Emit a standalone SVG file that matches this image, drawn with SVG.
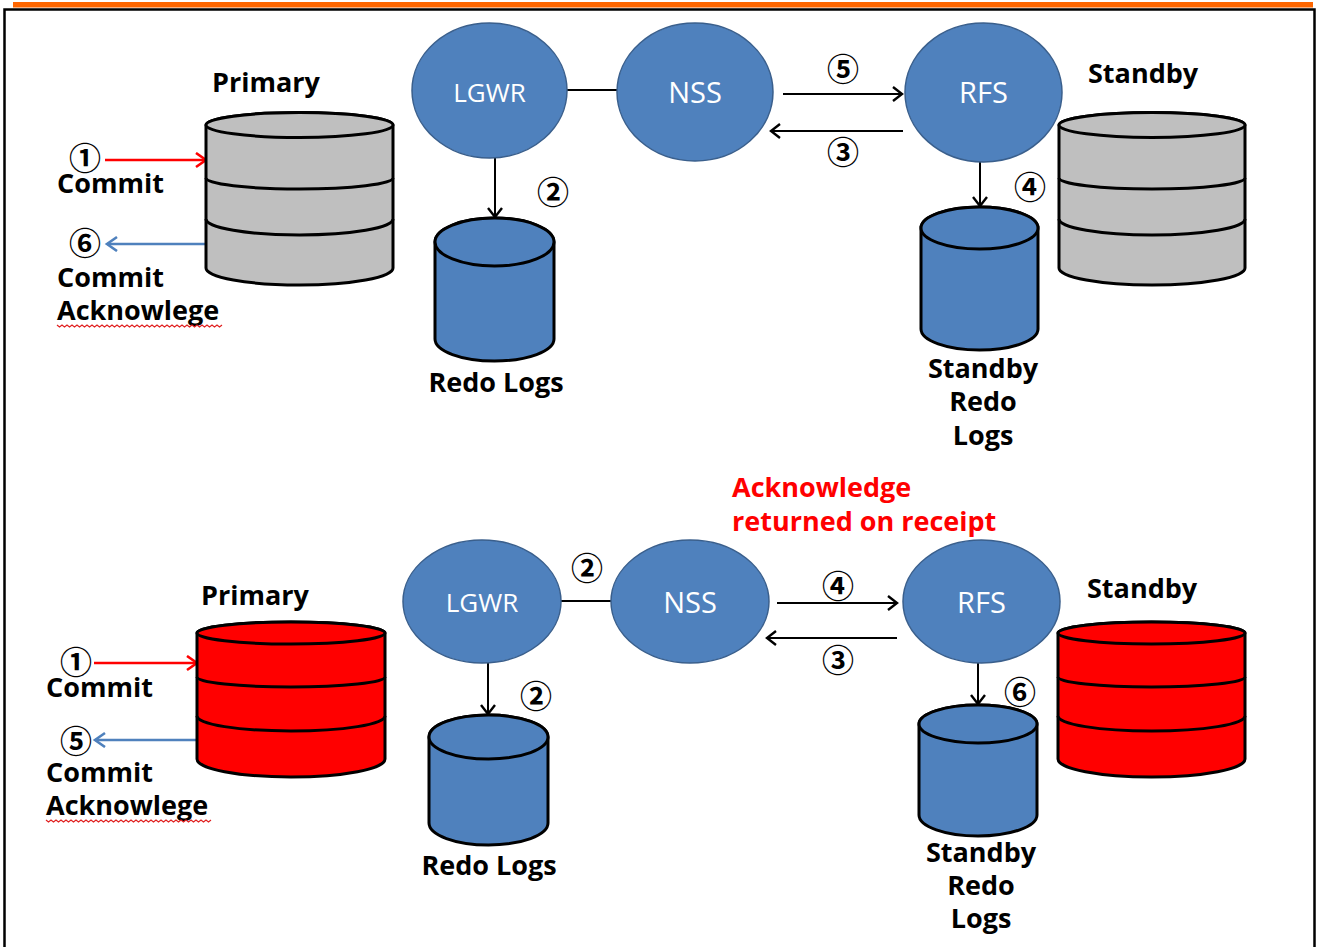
<svg xmlns="http://www.w3.org/2000/svg" width="1317" height="947" viewBox="0 0 1317 947">
<style>
.lbl{font-family:"Open Sans","Liberation Sans",sans-serif;font-weight:700;font-size:27px;fill:#000}
.red{fill:#FF0000}
.node{fill:#4F81BD;stroke:#3A5F8C;stroke-width:1.5}
.ntxt{font-family:"Open Sans","Liberation Sans",sans-serif;font-size:28px;fill:#FFFFFF;text-anchor:middle}
.num{font-family:"Noto Sans CJK KR","DejaVu Sans",sans-serif;font-weight:700;font-size:32px;fill:#000;text-anchor:middle}
.db{stroke:#000;stroke-width:3;stroke-linejoin:round}
.gray{fill:#BFBFBF}
.rdb{fill:#FF0000}
.blue{fill:#4F81BD}
.band{fill:none;stroke:#000;stroke-width:3}
.ln{stroke:#000;stroke-width:2;fill:none}
.rl{stroke:#FF0000;stroke-width:2.5;fill:none}
.bl{stroke:#4F81BD;stroke-width:2.5;fill:none}
.sq{stroke:#E02020;stroke-width:1.2;fill:none}
</style>
<defs>
<marker id="ah" markerUnits="userSpaceOnUse" markerWidth="14" markerHeight="18" refX="11" refY="8" orient="auto">
<path d="M2,1 L11,8 L2,15" fill="none" stroke="#000" stroke-width="2.4"/>
</marker>
<marker id="ahr" markerUnits="userSpaceOnUse" markerWidth="16" markerHeight="18" refX="12" refY="8" orient="auto">
<path d="M2,1 L12,8 L2,15" fill="none" stroke="#FF0000" stroke-width="2.6"/>
</marker>
<marker id="ahb" markerUnits="userSpaceOnUse" markerWidth="16" markerHeight="18" refX="12" refY="8" orient="auto">
<path d="M2,1 L12,8 L2,15" fill="none" stroke="#4F81BD" stroke-width="2.6"/>
</marker>
</defs>

<g id="frame">
<rect x="13" y="2" width="1300" height="5.5" fill="#FF6600"/>
<rect x="4.5" y="9.5" width="1310" height="960" fill="none" stroke="#000" stroke-width="2.5"/>
</g>

<g id="connectors">
<line class="rl" x1="105" y1="160" x2="206" y2="160" marker-end="url(#ahr)"/>
<line class="bl" x1="206" y1="244" x2="107" y2="244" marker-end="url(#ahb)"/>
<line class="ln" x1="567" y1="90" x2="617" y2="90"/>
<line class="ln" x1="783" y1="94" x2="902" y2="94" marker-end="url(#ah)"/>
<line class="ln" x1="903" y1="131" x2="771" y2="131" marker-end="url(#ah)"/>
<line class="ln" x1="495" y1="158" x2="495" y2="217" marker-end="url(#ah)"/>
<line class="ln" x1="980" y1="162" x2="980" y2="206" marker-end="url(#ah)"/>
<line class="rl" x1="94" y1="663" x2="197" y2="663" marker-end="url(#ahr)"/>
<line class="bl" x1="197" y1="740" x2="95" y2="740" marker-end="url(#ahb)"/>
<line class="ln" x1="561" y1="601" x2="611" y2="601"/>
<line class="ln" x1="777" y1="603" x2="897" y2="603" marker-end="url(#ah)"/>
<line class="ln" x1="897" y1="638" x2="767" y2="638" marker-end="url(#ah)"/>
<line class="ln" x1="488" y1="663" x2="488" y2="714" marker-end="url(#ah)"/>
<line class="ln" x1="978" y1="663" x2="978" y2="704" marker-end="url(#ah)"/>
</g>

<g id="labels-steps">
<text class="num" x="85" y="170">①</text>
<text class="num" x="85" y="255">⑥</text>
<text class="num" x="553" y="204">②</text>
<text class="num" x="843" y="81">⑤</text>
<text class="num" x="843" y="164">③</text>
<text class="num" x="1030" y="199">④</text>
<text class="num" x="76" y="674">①</text>
<text class="num" x="76" y="753">⑤</text>
<text class="num" x="587" y="580">②</text>
<text class="num" x="536" y="708">②</text>
<text class="num" x="838" y="598">④</text>
<text class="num" x="838" y="672">③</text>
<text class="num" x="1020" y="704">⑥</text>
</g>

<g id="top-primary">
<text class="lbl" x="212" y="92">Primary</text>
<path class="db gray" d="M206,125 L206,268 A93.5,17 0 0 0 393,268 L393,125 A93.5,12.5 0 0 0 206,125 Z"/>
<ellipse class="db gray" cx="299.5" cy="125" rx="93.5" ry="12.5"/>
<path class="band" d="M206,178 A93.5,11 0 0 0 393,178"/>
<path class="band" d="M206,219 A93.5,16 0 0 0 393,219"/>
</g>
<g id="top-commit">
<text class="lbl" x="57" y="193">Commit</text>
<text class="lbl" x="57" y="287">Commit</text>
<text class="lbl" x="57" y="320">Acknowlege</text>
<path class="sq" d="M57,325 l2.5,2 l2.5,-2 l2.5,2 l2.5,-2 l2.5,2 l2.5,-2 l2.5,2 l2.5,-2 l2.5,2 l2.5,-2 l2.5,2 l2.5,-2 l2.5,2 l2.5,-2 l2.5,2 l2.5,-2 l2.5,2 l2.5,-2 l2.5,2 l2.5,-2 l2.5,2 l2.5,-2 l2.5,2 l2.5,-2 l2.5,2 l2.5,-2 l2.5,2 l2.5,-2 l2.5,2 l2.5,-2 l2.5,2 l2.5,-2 l2.5,2 l2.5,-2 l2.5,2 l2.5,-2 l2.5,2 l2.5,-2 l2.5,2 l2.5,-2 l2.5,2 l2.5,-2 l2.5,2 l2.5,-2 l2.5,2 l2.5,-2 l2.5,2 l2.5,-2 l2.5,2 l2.5,-2 l2.5,2 l2.5,-2 l2.5,2 l2.5,-2 l2.5,2 l2.5,-2 l2.5,2 l2.5,-2 l2.5,2 l2.5,-2 l2.5,2 l2.5,-2 l2.5,2 l2.5,-2 l2.5,2 l2.5,-2"/>
</g>
<g id="top-lgwr">
<ellipse class="node" cx="489.5" cy="90.5" rx="77.5" ry="67.5"/>
<text class="ntxt" x="489.5" y="102" style="font-size:26px">LGWR</text>
</g>
<g id="top-nss">
<ellipse class="node" cx="695" cy="92" rx="78" ry="69"/>
<text class="ntxt" x="695" y="103" style="font-size:29px">NSS</text>
</g>
<g id="top-rfs">
<ellipse class="node" cx="983.5" cy="92.5" rx="78.5" ry="69.5"/>
<text class="ntxt" x="983.5" y="103" style="font-size:29px">RFS</text>
</g>
<g id="top-redo">
<path class="db blue" d="M435,242 L435,339 A59.5,22 0 0 0 554,339 L554,242 A59.5,24 0 0 0 435,242 Z"/>
<ellipse class="db blue" cx="494.5" cy="242" rx="59.5" ry="24"/>
<text class="lbl" x="496" y="392" text-anchor="middle">Redo Logs</text>
</g>
<g id="top-standby-redo">
<path class="db blue" d="M921,228 L921,329 A58.5,21 0 0 0 1038,329 L1038,228 A58.5,21 0 0 0 921,228 Z"/>
<ellipse class="db blue" cx="979.5" cy="228" rx="58.5" ry="21"/>
<text class="lbl" x="983" y="378" text-anchor="middle">Standby</text>
<text class="lbl" x="983" y="411" text-anchor="middle">Redo</text>
<text class="lbl" x="983" y="445" text-anchor="middle">Logs</text>
</g>
<g id="top-standby">
<text class="lbl" x="1088" y="83">Standby</text>
<path class="db gray" d="M1059,125 L1059,268 A93,17 0 0 0 1245,268 L1245,125 A93,12.5 0 0 0 1059,125 Z"/>
<ellipse class="db gray" cx="1152" cy="125" rx="93" ry="12.5"/>
<path class="band" d="M1059,178 A93,11 0 0 0 1245,178"/>
<path class="band" d="M1059,219 A93,16 0 0 0 1245,219"/>
</g>

<g id="bottom-note">
<text class="lbl red" x="732" y="497">Acknowledge</text>
<text class="lbl red" x="732" y="531">returned on receipt</text>
</g>
<g id="bottom-primary">
<text class="lbl" x="201" y="605">Primary</text>
<path class="db rdb" d="M197,633 L197,759 A94,18 0 0 0 385,759 L385,633 A94,11 0 0 0 197,633 Z"/>
<ellipse class="db rdb" cx="291" cy="633" rx="94" ry="11"/>
<path class="band" d="M197,677 A94,10 0 0 0 385,677"/>
<path class="band" d="M197,716 A94,15 0 0 0 385,716"/>
</g>
<g id="bottom-commit">
<text class="lbl" x="46" y="697">Commit</text>
<text class="lbl" x="46" y="782">Commit</text>
<text class="lbl" x="46" y="815">Acknowlege</text>
<path class="sq" d="M46,820 l2.5,2 l2.5,-2 l2.5,2 l2.5,-2 l2.5,2 l2.5,-2 l2.5,2 l2.5,-2 l2.5,2 l2.5,-2 l2.5,2 l2.5,-2 l2.5,2 l2.5,-2 l2.5,2 l2.5,-2 l2.5,2 l2.5,-2 l2.5,2 l2.5,-2 l2.5,2 l2.5,-2 l2.5,2 l2.5,-2 l2.5,2 l2.5,-2 l2.5,2 l2.5,-2 l2.5,2 l2.5,-2 l2.5,2 l2.5,-2 l2.5,2 l2.5,-2 l2.5,2 l2.5,-2 l2.5,2 l2.5,-2 l2.5,2 l2.5,-2 l2.5,2 l2.5,-2 l2.5,2 l2.5,-2 l2.5,2 l2.5,-2 l2.5,2 l2.5,-2 l2.5,2 l2.5,-2 l2.5,2 l2.5,-2 l2.5,2 l2.5,-2 l2.5,2 l2.5,-2 l2.5,2 l2.5,-2 l2.5,2 l2.5,-2 l2.5,2 l2.5,-2 l2.5,2 l2.5,-2 l2.5,2 l2.5,-2"/>
</g>
<g id="bottom-lgwr">
<ellipse class="node" cx="482" cy="601.5" rx="79" ry="61.5"/>
<text class="ntxt" x="482" y="612" style="font-size:26px">LGWR</text>
</g>
<g id="bottom-nss">
<ellipse class="node" cx="690" cy="601.5" rx="79" ry="61.5"/>
<text class="ntxt" x="690" y="613" style="font-size:29px">NSS</text>
</g>
<g id="bottom-rfs">
<ellipse class="node" cx="981.5" cy="601.5" rx="78.5" ry="61.5"/>
<text class="ntxt" x="981.5" y="613" style="font-size:29px">RFS</text>
</g>
<g id="bottom-redo">
<path class="db blue" d="M429,737 L429,823 A59.5,22 0 0 0 548,823 L548,737 A59.5,22 0 0 0 429,737 Z"/>
<ellipse class="db blue" cx="488.5" cy="737" rx="59.5" ry="22"/>
<text class="lbl" x="489" y="875" text-anchor="middle">Redo Logs</text>
</g>
<g id="bottom-standby-redo">
<path class="db blue" d="M919,724 L919,815 A59,21 0 0 0 1037,815 L1037,724 A59,19 0 0 0 919,724 Z"/>
<ellipse class="db blue" cx="978" cy="724" rx="59" ry="19"/>
<text class="lbl" x="981" y="862" text-anchor="middle">Standby</text>
<text class="lbl" x="981" y="895" text-anchor="middle">Redo</text>
<text class="lbl" x="981" y="928" text-anchor="middle">Logs</text>
</g>
<g id="bottom-standby">
<text class="lbl" x="1087" y="598">Standby</text>
<path class="db rdb" d="M1058,633 L1058,759 A93.5,18 0 0 0 1245,759 L1245,633 A93.5,11 0 0 0 1058,633 Z"/>
<ellipse class="db rdb" cx="1151.5" cy="633" rx="93.5" ry="11"/>
<path class="band" d="M1058,677 A93.5,10 0 0 0 1245,677"/>
<path class="band" d="M1058,716 A93.5,15 0 0 0 1245,716"/>
</g>
</svg>
